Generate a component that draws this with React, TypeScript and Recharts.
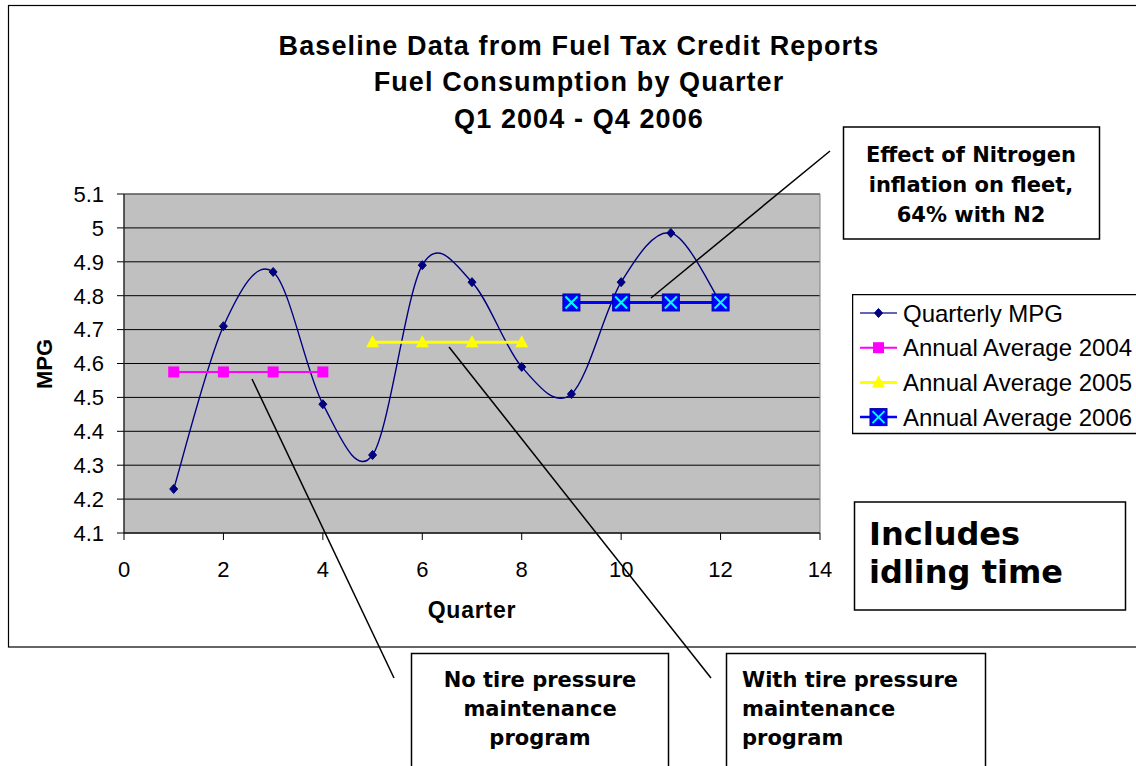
import React from 'react';
import { LineChart, Line, XAxis, YAxis, CartesianGrid, Legend, ReferenceArea } from 'recharts';

// ---- data ----
const quarters = [1, 2, 3, 4, 5, 6, 7, 8, 9, 10, 11, 12];
const quarterlyMpg = [4.23, 4.71, 4.87, 4.48, 4.33, 4.89, 4.84, 4.59, 4.51, 4.84, 4.985, 4.78];
const avg2004Quarters = [1, 2, 3, 4];
const avg2004Values = [4.575, 4.575, 4.575, 4.575];
const avg2005Quarters = [5, 6, 7, 8];
const avg2005Values = [4.6625, 4.6625, 4.6625, 4.6625];
const avg2006Quarters = [9, 10, 11, 12];
const avg2006Values = [4.78, 4.78, 4.78, 4.78];
const yTicks = [4.1, 4.2, 4.3, 4.4, 4.5, 4.6, 4.7, 4.8, 4.9, 5.0, 5.1];
const xTicks = [0, 2, 4, 6, 8, 10, 12, 14];
const titleLines = ['Baseline Data from Fuel Tax Credit Reports', 'Fuel Consumption by Quarter', 'Q1 2004 - Q4 2006'];
const legendLabels = ['Quarterly MPG', 'Annual Average 2004', 'Annual Average 2005', 'Annual Average 2006'];
const yAxisTitle = 'MPG';
const xAxisTitle = 'Quarter';
const nitrogenNote = ['Effect of Nitrogen', 'inflation on fleet,', '64% with N2'];
const noProgramNote = ['No tire pressure', 'maintenance', 'program'];
const withProgramNote = ['With tire pressure', 'maintenance', 'program'];
const idlingNote = ['Includes', 'idling time'];

const toPoints = (xs: number[], ys: number[]) => xs.map((x, i) => ({ x, y: ys[i] }));
const quarterlyData = toPoints(quarters, quarterlyMpg);
const data2004 = toPoints(avg2004Quarters, avg2004Values);
const data2005 = toPoints(avg2005Quarters, avg2005Values);
const data2006 = toPoints(avg2006Quarters, avg2006Values);

// Excel-like smoothed line (Catmull-Rom style bezier)
const excelSmooth: any = (context: any) => {
  let pts: number[][] = [];
  return {
    areaStart() {},
    areaEnd() {},
    lineStart() { pts = []; },
    point(x: number, y: number) { pts.push([+x, +y]); },
    lineEnd() {
      const n = pts.length;
      if (!n) return;
      context.moveTo(pts[0][0], pts[0][1]);
      for (let i = 0; i < n - 1; i++) {
        const p0 = pts[Math.max(i - 1, 0)];
        const p1 = pts[i];
        const p2 = pts[i + 1];
        const p3 = pts[Math.min(i + 2, n - 1)];
        context.bezierCurveTo(
          p1[0] + (p2[0] - p0[0]) / 6, p1[1] + (p2[1] - p0[1]) / 6,
          p2[0] - (p3[0] - p1[0]) / 6, p2[1] - (p3[1] - p1[1]) / 6,
          p2[0], p2[1]
        );
      }
    },
  };
};

const NAVY = '#000080';
const MAGENTA = '#FF00FF';
const YELLOW = '#FFFF00';
const BLUE = '#0000FF';
const CYAN = '#00FFFF';

const Diamond = ({ cx, cy }: any) => (
  <polygon points={`${cx},${cy - 4.5} ${cx + 4},${cy} ${cx},${cy + 4.5} ${cx - 4},${cy}`} fill={NAVY} stroke={NAVY} strokeWidth={1} />
);
const Square = ({ cx, cy }: any) => <rect x={cx - 5.5} y={cy - 5.5} width={11} height={11} fill={MAGENTA} />;
const Triangle = ({ cx, cy }: any) => (
  <polygon points={`${cx},${cy - 7} ${cx + 6.5},${cy + 5} ${cx - 6.5},${cy + 5}`} fill={YELLOW} />
);
const XSquare = ({ cx, cy }: any) => (
  <g>
    <rect x={cx - 8.5} y={cy - 8.5} width={17} height={17} fill={BLUE} stroke="#0000B0" strokeWidth={1} />
    <line x1={cx - 6} y1={cy - 6} x2={cx + 6} y2={cy + 6} stroke={CYAN} strokeWidth={2} />
    <line x1={cx + 6} y1={cy - 6} x2={cx - 6} y2={cy + 6} stroke={CYAN} strokeWidth={2} />
  </g>
);

const dotFn = (Comp: any) => (props: any) => <Comp key={`dot-${props.index}`} cx={props.cx} cy={props.cy} />;

const legendItems = [
  { label: legendLabels[0], color: '#3030A0', width: 1.5, Marker: Diamond },
  { label: legendLabels[1], color: MAGENTA, width: 2, Marker: Square },
  { label: legendLabels[2], color: YELLOW, width: 3, Marker: Triangle },
  { label: legendLabels[3], color: BLUE, width: 2.5, Marker: XSquare },
];

const LegendContent = () => (
  <svg width={300} height={141} style={{ display: 'block' }}>
    <rect x={0.5} y={0.5} width={320} height={139} fill="#fff" stroke="#000" strokeWidth={1.5} />
    {legendItems.map((it, i) => {
      const cy = 19 + i * 34.7;
      const M = it.Marker;
      return (
        <g key={it.label}>
          <line x1={8} y1={cy} x2={45} y2={cy} stroke={it.color} strokeWidth={it.width} />
          <M cx={26.5} cy={cy} />
          <text x={51} y={cy + 8.5} fontSize={24} fontFamily="Liberation Sans, Arial, sans-serif" fill="#000">{it.label}</text>
        </g>
      );
    })}
  </svg>
);

const FONT = 'Liberation Sans, Arial, sans-serif';
const BOXFONT = 'DejaVu Sans, Verdana, sans-serif';

export default function App() {
  return (
    <div style={{ position: 'absolute', left: 0, top: 0, width: 1136, height: 766, overflow: 'hidden', background: '#fff' }}>
      <LineChart width={1136} height={766} margin={{ top: 194, right: 316, bottom: 193, left: 64 }}>
        <CartesianGrid vertical={false} horizontal stroke="#000" strokeWidth={1} fill="#C0C0C0" fillOpacity={1} strokeOpacity={1} />
        <ReferenceArea x1={0} x2={14} y1={4.1} y2={5.1} fill="none" stroke="#808080" strokeWidth={1} ifOverflow="visible" />
        <XAxis
          type="number"
          dataKey="x"
          domain={[0, 14]}
          ticks={xTicks}
          interval={0}
          allowDataOverflow
          height={40}
          tickSize={7}
          tickMargin={21}
          stroke="#000"
          tick={{ fill: '#000', fontSize: 22, fontFamily: FONT }}
        />
        <YAxis
          type="number"
          dataKey="y"
          domain={[4.1, 5.1]}
          ticks={yTicks}
          interval={0}
          allowDataOverflow
          width={60}
          tickSize={7}
          tickMargin={13}
          stroke="#000"
          tickFormatter={(v: number) => String(+Number(v).toFixed(1))}
          tick={{ fill: '#000', fontSize: 22, fontFamily: FONT }}
        />
        <Line data={quarterlyData} dataKey="y" type={excelSmooth} stroke={NAVY} strokeWidth={1.4} dot={dotFn(Diamond)} activeDot={false} isAnimationActive={false} name={legendLabels[0]} />
        <Line data={data2004} dataKey="y" type="linear" stroke={MAGENTA} strokeWidth={2} dot={dotFn(Square)} activeDot={false} isAnimationActive={false} name={legendLabels[1]} />
        <Line data={data2005} dataKey="y" type="linear" stroke={YELLOW} strokeWidth={3} dot={dotFn(Triangle)} activeDot={false} isAnimationActive={false} name={legendLabels[2]} />
        <Line data={data2006} dataKey="y" type="linear" stroke={BLUE} strokeWidth={3} dot={dotFn(XSquare)} activeDot={false} isAnimationActive={false} name={legendLabels[3]} />
        <Legend
          layout="vertical"
          align="center"
          verticalAlign="middle"
          content={() => <LegendContent />}
          wrapperStyle={{ position: 'absolute', left: 852, top: 294, width: 300, height: 141 }}
        />
      </LineChart>
      <svg width={1136} height={766} style={{ position: 'absolute', left: 0, top: 0, pointerEvents: 'none' }}>
        {/* outer chart border */}
        <rect x={8.5} y={5.5} width={1140} height={641.5} fill="none" stroke="#000" strokeWidth={1.2} />
        {/* title */}
        {titleLines.map((t, i) => (
          <text key={t} x={579} y={54.5 + i * 36.7} textAnchor="middle" fontSize={27} fontWeight="bold" fontFamily={FONT} letterSpacing={1.1} fill="#000">{t}</text>
        ))}
        {/* axis titles */}
        <text x={0} y={0} transform="translate(52,364) rotate(-90)" textAnchor="middle" fontSize={22} fontWeight="bold" fontFamily={FONT} fill="#000">{yAxisTitle}</text>
        <text x={472} y={618} textAnchor="middle" fontSize={23} fontWeight="bold" fontFamily={FONT} letterSpacing={0.8} fill="#000">{xAxisTitle}</text>
        {/* leader lines */}
        <line x1={252} y1={379} x2={394} y2={678} stroke="#000" strokeWidth={1.5} />
        <line x1={449} y1={347} x2={711} y2={678} stroke="#000" strokeWidth={1.5} />
        <line x1={651} y1={298} x2={830} y2={151} stroke="#000" strokeWidth={1.5} />
        {/* nitrogen note */}
        <rect x={843.5} y={127} width={256} height={112} fill="#fff" stroke="#000" strokeWidth={1.5} />
        {nitrogenNote.map((t, i) => (
          <text key={t} x={971} y={162 + i * 30} textAnchor="middle" fontSize={21} fontWeight="bold" fontFamily={BOXFONT} fill="#000">{t}</text>
        ))}
        {/* idling note */}
        <rect x={854.5} y={502} width={271} height={108} fill="#fff" stroke="#000" strokeWidth={1.5} />
        {idlingNote.map((t, i) => (
          <text key={t} x={869} y={545 + i * 38} fontSize={32} fontWeight="bold" fontFamily={BOXFONT} fill="#000">{t}</text>
        ))}
        {/* bottom notes */}
        <rect x={411.5} y={653.5} width={257} height={140} fill="#fff" stroke="#000" strokeWidth={1.5} />
        {noProgramNote.map((t, i) => (
          <text key={t} x={540} y={687 + i * 29} textAnchor="middle" fontSize={21} fontWeight="bold" fontFamily={BOXFONT} fill="#000">{t}</text>
        ))}
        <rect x={726.5} y={653.5} width={259} height={140} fill="#fff" stroke="#000" strokeWidth={1.5} />
        {withProgramNote.map((t, i) => (
          <text key={t} x={742} y={687 + i * 29} fontSize={21} fontWeight="bold" fontFamily={BOXFONT} fill="#000">{t}</text>
        ))}
      </svg>
    </div>
  );
}
